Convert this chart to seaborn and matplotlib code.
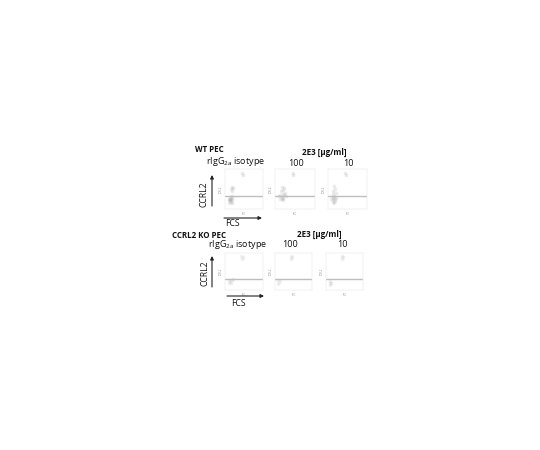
import matplotlib
matplotlib.use('Agg')
import matplotlib.pyplot as plt
import pandas as pd
import seaborn as sns

W, H = 540, 450

panel_names = ["wt_iso", "wt_100", "wt_10", "ko_iso", "ko_100", "ko_10"]
tick_values = [0, 1, 2, 3, 4, 5]

# dots, decades on both axes
wt_iso_x = [0.5, 0.6, 0.7, 0.8, 0.9, 1.0, 0.6, 0.8, 1.0, 0.7, 0.9, 0.8, 1.0, 0.9, 1.1, 0.7, 2.3, 2.4]
wt_iso_y = [1.1, 1.3, 1.0, 1.2, 1.4, 1.1, 0.8, 0.9, 1.6, 1.5, 0.7, 2.5, 2.8, 2.3, 2.6, 1.2, 4.5, 4.3]
wt_100_x = [0.5, 0.7, 0.9, 1.0, 1.2, 0.8, 1.0, 1.1, 1.3, 0.9, 0.7, 1.2, 1.4, 0.9, 1.1, 2.3, 2.4]
wt_100_y = [1.6, 1.8, 1.5, 1.9, 1.7, 2.2, 2.4, 1.4, 2.0, 1.2, 1.3, 2.6, 1.6, 2.8, 1.1, 4.5, 4.3]
wt_10_x = [0.4, 0.6, 0.7, 0.8, 0.9, 1.0, 0.6, 0.8, 0.7, 0.9, 0.8, 1.0, 0.6, 0.9, 0.7, 2.3, 2.4]
wt_10_y = [1.3, 1.5, 1.1, 1.6, 1.2, 1.4, 0.9, 0.8, 2.2, 2.5, 2.9, 2.0, 1.9, 1.0, 1.4, 4.5, 4.3]
ko_iso_x = [0.5, 0.7, 0.9, 0.6, 1.1, 0.8, 2.2, 2.4, 2.3]
ko_iso_y = [1.4, 1.2, 1.3, 1.0, 1.5, 0.9, 4.6, 4.4, 4.2]
ko_100_x = [0.3, 0.5, 0.7, 0.4, 2.2, 2.4, 2.3]
ko_100_y = [1.3, 1.1, 1.4, 0.8, 4.6, 4.4, 4.2]
ko_10_x = [0.5, 0.6, 0.7, 0.6, 2.2, 2.4, 2.3]
ko_10_y = [1.0, 1.2, 0.9, 0.7, 4.6, 4.4, 4.2]

panel_x = [wt_iso_x, wt_100_x, wt_10_x, ko_iso_x, ko_100_x, ko_10_x]
panel_y = [wt_iso_y, wt_100_y, wt_10_y, ko_iso_y, ko_100_y, ko_10_y]


def px_axes(fig, left, top, right, bottom):
    return fig.add_axes([left / W, 1 - bottom / H, (right - left) / W, (bottom - top) / H])


def draw_panel(ax, x, y, gate, dot_alpha):
    data = pd.DataFrame({"x": x, "y": y})
    sns.scatterplot(data=data, x="x", y="y", ax=ax, color="#777777", s=7, alpha=dot_alpha,
                    linewidth=0, legend=False)
    ax.axhline(gate, color="#bdbdbd", lw=1.0)
    ax.set_xlim(0, 5.2)
    ax.set_ylim(0, 5)
    ax.set_xticks(tick_values)
    ax.set_yticks(tick_values)
    ax.set_xticklabels([])
    ax.set_yticklabels([])
    ax.tick_params(length=1.5, width=0.5, color="#666666")
    ax.set_xlabel("")
    ax.set_ylabel("")
    for side in ax.spines.values():
        side.set_linewidth(0.3)
        side.set_color("#e2e2e2")
    # tiny unreadable axis captions of the original
    ax.text(0.5, -0.16, "FSC", transform=ax.transAxes, fontsize=1.8, color="#888888", ha="center")
    ax.text(-0.16, 0.5, "CCRL2", transform=ax.transAxes, fontsize=1.8, color="#888888",
            rotation=90, va="center")


sns.set_style("white")
plt.rcParams['font.family'] = ['Open Sans', 'DejaVu Sans']
plt.rcParams['mathtext.default'] = 'regular'

fig = plt.figure(figsize=(W / 100, H / 100), dpi=100)

boxes = [(225, 169, 263, 209), (275, 169, 315, 209), (328, 169, 367, 209),
         (225, 253, 263, 290), (275, 253, 312, 290), (326, 253, 363, 290)]
gates = [1.65, 1.65, 1.65, 1.5, 1.5, 1.5]
alphas = [0.14, 0.14, 0.14, 0.1, 0.1, 0.1]
for name, box, x, y, gate, a in zip(panel_names, boxes, panel_x, panel_y, gates, alphas):
    draw_panel(px_axes(fig, *box), x, y, gate, a)


def label(x, y, s, size=6.0, weight="normal", rotation=0):
    fig.text(x / W, 1 - y / H, s, fontsize=size, fontweight=weight, rotation=rotation,
             ha="center", va="center", color="#111111")


def arrow(x0, y0, x1, y1):
    fig.add_artist(matplotlib.patches.FancyArrowPatch(
        (x0 / W, 1 - y0 / H), (x1 / W, 1 - y1 / H), transform=fig.transFigure,
        arrowstyle="-|>", mutation_scale=5, lw=0.8, color="#222222", shrinkA=0, shrinkB=0))


label(209, 150, "WT PEC", 5.7, "bold")
label(236, 162, "rIgG$_{2a}$ isotype", 6.5)
label(324, 152, "2E3 [µg/ml]", 5.8, "bold")
label(296, 164, "100", 6.6)
label(348, 164, "10", 6.6)
label(204, 194, "CCRL2", 6.2, rotation=90)
label(232, 223, "FCS", 6.2)
arrow(212, 206, 212, 175)
arrow(224, 218, 262, 218)

label(199, 235, "CCRL2 KO PEC", 5.7, "bold")
label(238, 245, "rIgG$_{2a}$ isotype", 6.5)
label(319, 234, "2E3 [µg/ml]", 5.8, "bold")
label(290, 245, "100", 6.6)
label(342, 245, "10", 6.6)
label(205, 273, "CCRL2", 6.2, rotation=90)
label(238, 304, "FCS", 6.2)
arrow(212, 287, 212, 256)
arrow(227, 296, 264, 296)

fig.savefig("out.png", dpi=100)
